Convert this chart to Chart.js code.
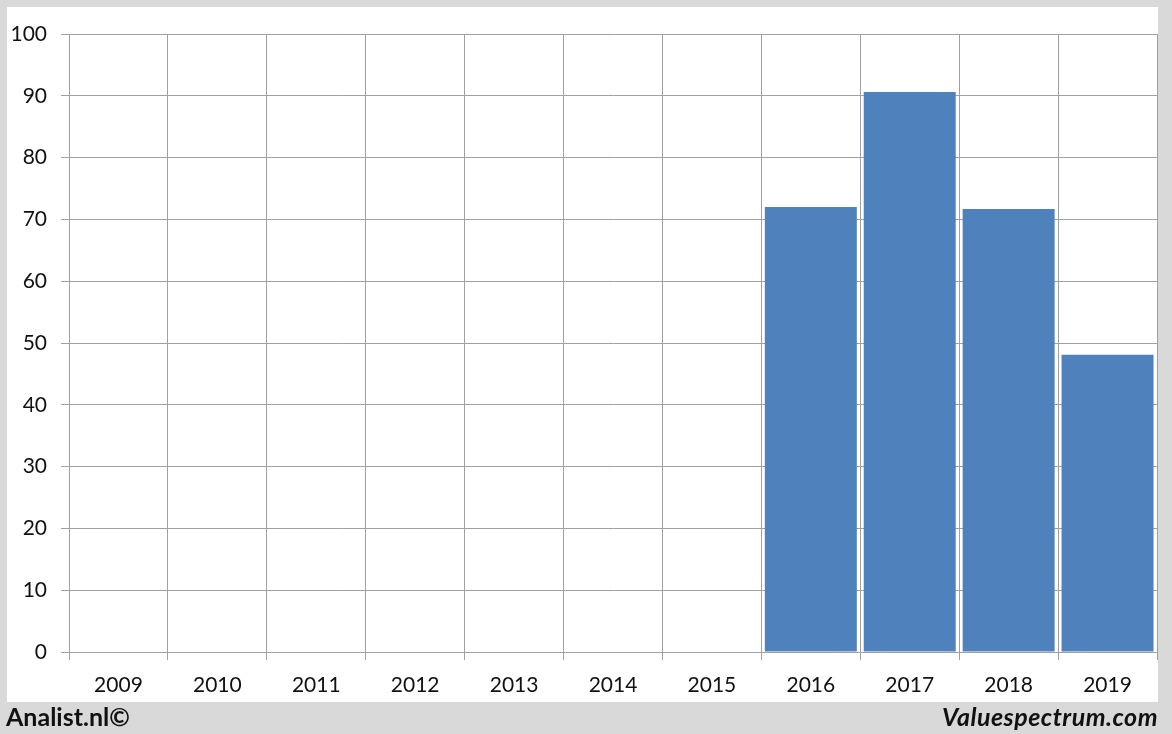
<!DOCTYPE html>
<html>
<head>
<meta charset="utf-8">
<script src="https://cdn.jsdelivr.net/npm/chart.js@4/dist/chart.umd.min.js"></script>
<style>
  html, body { margin: 0; padding: 0; }
  body { width: 1172px; height: 734px; background: #d9d9d9; position: relative; overflow: hidden; font-family: Lato, sans-serif; }
  #panel { position: absolute; left: 7px; top: 7px; width: 1151px; height: 695px; background: #fff; }
  #left { position: absolute; left: 6px; top: 701px; font-weight: bold; font-size: 25px; line-height: 30px; color: #111; }
  #right { position: absolute; right: 14px; top: 701px; font-weight: bold; font-style: italic; font-size: 25px; line-height: 30px; color: #111; letter-spacing: 0.5px; }
</style>
</head>
<body>
<div id="panel"><canvas id="myChart" width="1151" height="695"></canvas></div>
<div id="left">Analist.nl©</div>
<div id="right">Valuespectrum.com</div>
<script>
var years = ["2009","2010","2011","2012","2013","2014","2015","2016","2017","2018","2019"];
var values = [null,null,null,null,null,null,null,72.0,90.6,71.7,48.1];
var yTicks = [0,10,20,30,40,50,60,70,80,90,100];

var gridColor = "#a0a0a0";

new Chart("myChart", {
  type: "bar",
  data: {
    labels: years,
    datasets: [{
      backgroundColor: "#4f81bd",
      data: values,
      barPercentage: 0.93,
      categoryPercentage: 1.0
    }]
  },
  options: {
    responsive: false,
    animation: false,
    layout: { padding: { top: 27, right: 1, left: 0, bottom: 0 } },
    plugins: { legend: { display: false }, tooltip: { enabled: false } },
    scales: {
      x: {
        grid: { offset: true, color: gridColor, tickLength: 8 },
        border: { color: gridColor },
        ticks: { color: "#111", font: { family: "Lato", size: 21 }, padding: 13, maxRotation: 0 },
        afterFit: function(s){ s.height = 50; }
      },
      y: {
        min: 0, max: 100,
        afterBuildTicks: function(s){ s.ticks = yTicks.map(function(v){ return {value: v}; }); },
        grid: { color: gridColor, tickLength: 8 },
        border: { color: gridColor },
        ticks: { color: "#111", font: { family: "Lato", size: 21 }, padding: 14 },
        afterFit: function(s){ s.width = 62; }
      }
    }
  }
});
</script>
</body>
</html>
